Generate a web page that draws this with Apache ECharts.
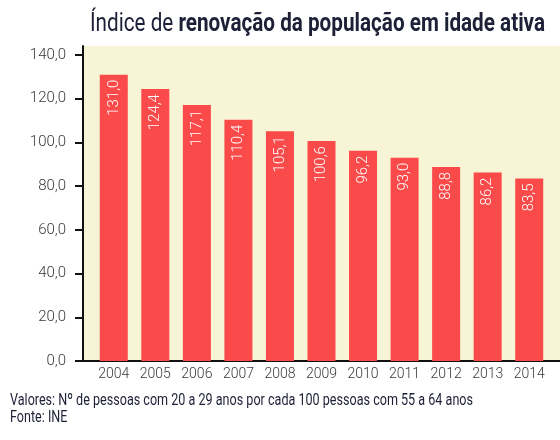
<!DOCTYPE html>
<html><head><meta charset="utf-8">
<script src="https://cdn.jsdelivr.net/npm/echarts@6/dist/echarts.min.js"></script>
<style>html,body{margin:0;padding:0;background:#fff}#c{width:560px;height:440px}</style>
</head><body><div id="c"></div>
<script>
const years = ['2004','2005','2006','2007','2008','2009','2010','2011','2012','2013','2014'];
const values = [131.0,124.4,117.1,110.4,105.1,100.6,96.2,93.0,88.8,86.2,83.5];
const yTicks = {min:0, max:140, interval:20};
const titleLight = 'Índice de ';
const titleBold = 'renovação da população em idade ativa';
const note1 = 'Valores: Nº de pessoas com 20 a 29 anos por cada 100 pessoas com 55 a 64 anos';
const note2 = 'Fonte: INE';

const fmt = v => v.toFixed(1).replace('.', ',');
const FF = 'Roboto';
const ctx = document.createElement('canvas').getContext('2d');
function w(t, f){ ctx.font = f; return ctx.measureText(t).width; }
const tSize = 26;
const titleW = w(titleLight, 'normal '+tSize+'px '+FF) + w(titleBold, 'bold '+tSize+'px '+FF);
const tScale = 455 / titleW;
const nSize = 17;
const noteW = w(note1, nSize+'px '+FF);
const nScale = 463 / noteW;
const ink = '#1d2036';

const chart = echarts.init(document.getElementById('c'), null, {renderer:'canvas'});
chart.setOption({
  animation:false,
  graphic:[
    {type:'text',x:90,y:11,scaleX:tScale,originX:0,originY:0,
     style:{text:'{l|'+titleLight+'}{b|'+titleBold+'}',
       rich:{l:{fontFamily:FF,fontSize:tSize,fontWeight:'normal',fill:ink,textFill:ink,color:ink},
             b:{fontFamily:FF,fontSize:tSize,fontWeight:'bold',fill:ink,textFill:ink,color:ink}}}},
    {type:'text',x:10,y:392,scaleX:nScale,originX:0,style:{text:note1,font:nSize+'px '+FF,fill:ink}},
    {type:'text',x:10,y:409,scaleX:nScale,originX:0,style:{text:note2,font:nSize+'px '+FF,fill:ink}}
  ],
  grid:[
    {left:83,right:0,top:46,bottom:79,show:true,backgroundColor:'#f8f4d6',borderWidth:0},
    {left:93,right:10,top:55,bottom:79}
  ],
  xAxis:[
    {gridIndex:0,type:'value',min:0,max:1,axisLine:{show:true,lineStyle:{color:'#111',width:2}},axisTick:{show:false},axisLabel:{show:false},splitLine:{show:false}},
    {gridIndex:1,type:'category',data:years,axisLine:{show:false},axisTick:{show:false},
     axisLabel:{color:'#3a3a3a',fontSize:14,fontFamily:FF,fontWeight:300,margin:6}}
  ],
  yAxis:[
    {gridIndex:0,type:'value',min:0,max:1,axisLine:{show:true,lineStyle:{color:'#111',width:2}},axisTick:{show:false},axisLabel:{show:false},splitLine:{show:false}},
    {gridIndex:1,type:'value',min:yTicks.min,max:yTicks.max,interval:yTicks.interval,offset:10,
     axisLine:{show:false},axisTick:{show:true,length:8,lineStyle:{color:'#111',width:2}},
     splitLine:{show:false},
     axisLabel:{color:'#3a3a3a',fontSize:15,fontFamily:FF,fontWeight:300,margin:17,formatter:fmt}}
  ],
  series:[{
    type:'bar',xAxisIndex:1,yAxisIndex:1,data:values,barWidth:28,
    itemStyle:{color:'#fa4a4a'},
    label:{show:true,position:'insideTop',distance:5,rotate:90,align:'right',verticalAlign:'middle',
      color:'#fff',fontSize:15,fontFamily:FF,fontWeight:300,formatter:p=>fmt(p.value)}
  }]
});
</script></body></html>
